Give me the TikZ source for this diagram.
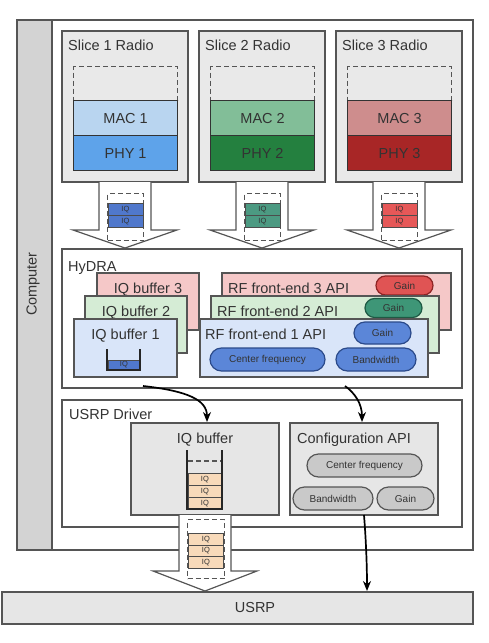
\documentclass[tikz,border=0pt]{standalone}
\usepackage{fontspec}
\setmainfont{Liberation Sans}
\usetikzlibrary{arrows.meta,shapes.misc}
\definecolor{bd}{HTML}{555555}
\definecolor{tx}{HTML}{333333}
\definecolor{slg}{HTML}{E9E9E9}
\definecolor{barg}{HTML}{D3D3D3}
\definecolor{lg}{HTML}{E6E6E6}
\definecolor{mac1}{HTML}{B9D5F0}
\definecolor{phy1}{HTML}{5EA3EA}
\definecolor{mac2}{HTML}{82BE98}
\definecolor{phy2}{HTML}{24803F}
\definecolor{mac3}{HTML}{CE8D8D}
\definecolor{phy3}{HTML}{A82626}
\definecolor{iqa}{HTML}{5078CC}
\definecolor{iqb}{HTML}{4C9A82}
\definecolor{iqc}{HTML}{E65858}
\definecolor{pk}{HTML}{F5C8C8}
\definecolor{gn}{HTML}{D5ECD5}
\definecolor{bl}{HTML}{D9E5F9}
\definecolor{pillb}{HTML}{5B86D8}
\definecolor{pillbd}{HTML}{2B4A8A}
\definecolor{pillt}{HTML}{3E9677}
\definecolor{pilltd}{HTML}{1E5A44}
\definecolor{pillr}{HTML}{E05454}
\definecolor{pillrd}{HTML}{8E2424}
\definecolor{pillg}{HTML}{C9C9C9}
\definecolor{peach}{HTML}{F8DABA}
\newcommand\ftitle{\fontsize{14.5}{16}\selectfont}
\newcommand\fpill{\fontsize{10}{12}\selectfont}
\newcommand\fcell{\fontsize{7.5}{8}\selectfont}
\tikzset{
 rect/.style={draw=bd, line width=1.2pt, anchor=north west, inner sep=0pt, outer sep=0pt},
 sz/.style 2 args={minimum width=#1pt, minimum height=#2pt},
 lbl/.style={anchor=base west, inner sep=0pt, text=tx, font=\ftitle},
 clbl/.style={anchor=base, inner sep=0pt, text=tx, font=\ftitle},
 layer/.style={draw=black!80, line width=1.2pt, anchor=north west, inner sep=0pt, text=tx, font=\ftitle},
 pill/.style={rounded rectangle, draw=#1, line width=1.2pt, inner sep=0pt, text=tx, font=\fpill},
 cell/.style={draw=black!70, line width=0.8pt, anchor=north west, inner sep=0pt, font=\fcell, text=tx},
 blockarrow/.style={draw=bd, fill=white, line width=1.2pt, line join=miter},
 dashbox/.style={draw=bd, line width=1.2pt, dash pattern=on 5pt off 3pt, inner sep=0pt},
 conn/.style={line width=1.7pt, -{Stealth[length=10pt,width=8pt]}},
 bucket/.style={line width=1.8pt, draw=black!85}
}
\begin{document}
\begin{tikzpicture}[x=1pt,y=-1pt]
\useasboundingbox (0,0) rectangle (489,643);
% Computer
\node[rect, fill=white, sz={456}{530}] (comp) at (17,20) {};
\node[rect, fill=barg, sz={35}{530}] (bar) at (17,20) {};
\node[rotate=90, inner sep=0pt, text=tx, font=\ftitle] (complbl) at (33,284) {Computer};
% Slices
\foreach \i/\x/\mc/\pc/\cc in {1/62/mac1/phy1/iqa, 2/199/mac2/phy2/iqb, 3/336/mac3/phy3/iqc} {
 \node[rect, fill=slg, sz={126}{151}] (s\i) at (\x,31) {};
 \node[lbl] (st\i) at (\x+6,50) {Slice \i\ Radio};
 \node[dashbox, anchor=north west, sz={104}{34}] (sd\i) at (\x+11,66) {};
 \node[layer, fill=\mc, sz={104}{35}] (sm\i) at (\x+11,100) {MAC \i};
 \node[layer, fill=\pc, sz={104}{35}] (sp\i) at (\x+11,135) {PHY \i};
 \draw[blockarrow] (\x+37,182) -- (\x+37,230) -- (\x+11,230) -- (\x+63,248) -- (\x+115,230) -- (\x+89,230) -- (\x+89,182);
 \node[dashbox, anchor=north west, sz={36}{47}] (sq\i) at (\x+45,193) {};
 \node[cell, fill=\cc, sz={35}{12}] (ca\i) at (\x+45.5,203) {IQ};
 \node[cell, fill=\cc, sz={35}{12}] (cb\i) at (\x+45.5,215) {IQ};
}
% HyDRA
\node[rect, fill=white, sz={400}{139}] (hydra) at (62,249) {};
\node[lbl] (hydrat) at (68,271) {HyDRA};
\node[rect, fill=pk, sz={102}{57}] (b3) at (97,273) {};
\node[clbl] (b3t) at (148,293) {IQ buffer 3};
\node[rect, fill=pk, sz={229}{57}] (rf3) at (222,273) {};
\node[lbl] (rf3t) at (228,293) {RF front-end 3 API};
\node[pill=pillrd, fill=pillr, minimum width=57pt, minimum height=19pt] (g3) at (404.5,285.5) {Gain};
\node[rect, fill=gn, sz={102}{57}] (b2) at (85,296) {};
\node[clbl] (b2t) at (136,316) {IQ buffer 2};
\node[rect, fill=gn, sz={228}{57}] (rf2) at (211,296) {};
\node[lbl] (rf2t) at (217,316) {RF front-end 2 API};
\node[pill=pilltd, fill=pillt, minimum width=57pt, minimum height=19pt] (g2) at (393.5,308) {Gain};
\node[rect, fill=bl, sz={103}{58}] (b1) at (74,319) {};
\node[clbl] (b1t) at (125.5,339) {IQ buffer 1};
\node[cell, fill=iqa, sz={32}{10}] (b1c) at (107.5,359.5) {IQ};
\draw[bucket] (107,349) -- (107,370) -- (140,370) -- (140,349);
\node[rect, fill=bl, sz={228}{58}] (rf1) at (200,319) {};
\node[lbl] (rf1t) at (205,339) {RF front-end 1 API};
\node[pill=pillbd, fill=pillb, minimum width=57pt, minimum height=22pt] (g1) at (382.5,333) {Gain};
\node[pill=pillbd, fill=pillb, minimum width=115pt, minimum height=23pt] (cf1) at (267.5,359.5) {Center frequency};
\node[pill=pillbd, fill=pillb, minimum width=80pt, minimum height=23pt] (bw1) at (376,359.5) {Bandwidth};
% USRP Driver
\node[rect, fill=white, sz={400}{127}] (drv) at (62,400) {};
\node[lbl] (drvt) at (69,419) {USRP Driver};
\node[rect, fill=lg, sz={148}{92}] (iqbuf) at (131,423) {};
\node[clbl] (iqbuft) at (205,443) {IQ buffer};
\draw[dashbox] (188,461) -- (221,461);
\node[cell, fill=peach, sz={33}{12}] (d1) at (188,473) {IQ};
\node[cell, fill=peach, sz={33}{12}] (d2) at (188,485) {IQ};
\node[cell, fill=peach, sz={33}{12}] (d3) at (188,497) {IQ};
\draw[bucket] (187,450) -- (187,509) -- (222,509) -- (222,450);
\node[rect, fill=lg, sz={148}{92}] (cfg) at (290,423) {};
\node[lbl] (cfgt) at (297,443) {Configuration API};
\node[pill=bd, fill=pillg, minimum width=115pt, minimum height=23pt] (cf2) at (364.5,465.5) {Center frequency};
\node[pill=bd, fill=pillg, minimum width=80pt, minimum height=23pt] (bw2) at (333,498.5) {Bandwidth};
\node[pill=bd, fill=pillg, minimum width=57pt, minimum height=23pt] (g4) at (405.5,498.5) {Gain};
% bottom block arrow
\draw[blockarrow] (179,515) -- (179,571) -- (153,571) -- (205,591) -- (257,571) -- (231,571) -- (231,515);
\node[dashbox, anchor=north west, sz={37}{59}] (bq) at (187,519) {};
\node[cell, fill=peach, sz={35}{11.5}] (e1) at (188,533) {IQ};
\node[cell, fill=peach, sz={35}{11.5}] (e2) at (188,544.5) {IQ};
\node[cell, fill=peach, sz={35}{11.5}] (e3) at (188,556) {IQ};
% USRP
\node[rect, fill=lg, sz={471}{32}] (usrp) at (2,592) {};
\node[clbl] (usrpt) at (255,612) {USRP};
% connectors
\coordinate (h1) at (143,386);
\coordinate (h2) at (345,386);
\path (cfg.south |- usrp.north) ++(3,-1) coordinate (u3);
\draw[conn] (h1) .. controls +(45,5) and +(0,-22) .. ([xshift=2pt,yshift=1pt]iqbuf.north);
\draw[conn] (h2) .. controls +(10,7) and +(0,-18) .. ([xshift=-2pt,yshift=1pt]cfg.north);
\draw[conn] (cfg.south) .. controls +(2,25) and +(0,-25) .. (u3);
\end{tikzpicture}
\end{document}
